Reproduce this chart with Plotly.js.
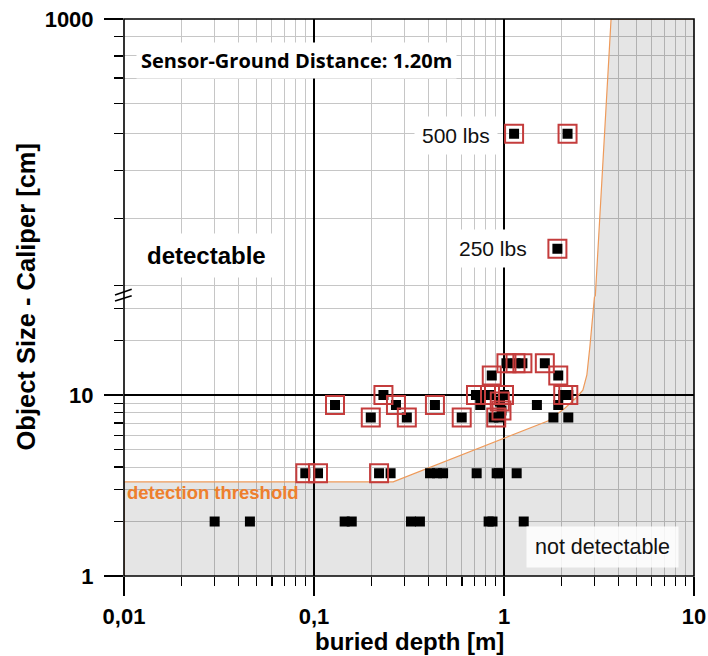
<!DOCTYPE html>
<html>
<head>
<meta charset="utf-8">
<script src="https://cdn.plot.ly/plotly-3.0.1.min.js"></script>
<style>html,body{margin:0;padding:0;background:#fff;}#chart{width:708px;height:656px;}</style>
</head>
<body>
<div id="chart"></div>
<script>
// ---- data ----
// all measured objects (black squares), lower axis part (size < ~35 cm)
const objDepth = [0.030, 0.046, 0.145, 0.158, 0.324, 0.361, 0.83, 0.87, 1.27,
                  0.090, 0.105, 0.220, 0.253, 0.408, 0.444, 0.478, 0.718, 0.915, 0.94, 1.166,
                  0.199, 0.308, 0.599, 0.88, 0.94, 1.82, 2.18,
                  0.129, 0.27, 0.433, 0.75, 1.49, 1.93,
                  0.232, 0.712, 0.80, 0.844, 1.0, 2.05, 2.18,
                  0.95, 0.97, 0.862, 1.93, 1.03, 1.15, 1.25, 1.64];
const objSize  = [2, 2, 2, 2, 2, 2, 2, 2, 2,
                  3.7, 3.7, 3.7, 3.7, 3.7, 3.7, 3.7, 3.7, 3.7, 3.7, 3.7,
                  7.5, 7.5, 7.5, 7.5, 7.5, 7.5, 7.5,
                  8.8, 8.8, 8.8, 8.8, 8.8, 8.8,
                  10, 10, 10, 10, 10, 10, 10,
                  9.2, 8.2, 12.8, 12.8, 15, 15, 15, 15];
// detected objects (red frames), lower axis part
const detDepth = [0.090, 0.105, 0.220,
                  0.199, 0.308, 0.599, 0.91,
                  0.129, 0.27, 0.433, 0.97, 0.95,
                  0.232, 0.712, 0.844, 1.0, 2.05, 2.18,
                  0.862, 1.93,
                  1.03, 1.15, 1.25, 1.64];
const detSize  = [3.7, 3.7, 3.7,
                  7.5, 7.5, 7.5, 7.5,
                  8.8, 8.8, 8.8, 8.2, 9.2,
                  10, 10, 10, 10, 10, 10,
                  12.8, 12.8,
                  15, 15, 15, 15];
// bombs (upper axis part)
const bombDepth = [1.13, 2.16, 1.91];
const bombSize  = [500, 500, 250];
// detection threshold
const thrLowX = [0.01, 0.01, 0.261, 1.70, 2.09, 2.39, 2.60, 2.73, 2.83, 2.94, 3.01, 3.03];
const thrLowY = [1, 3.31, 3.31, 7.18, 8.45, 9.63, 10.64, 12.9, 18.4, 28.3, 35, 40];
const thrUpX  = [2.99, 3.66, 10];
const thrUpY  = [170, 1000, 1000];
// ticks
const xMajor = [0.01, 0.1, 1, 10];
const xMajorText = ['0,01', '0,1', '1', '10'];
const xMinor = [0.02,0.03,0.04,0.05,0.06,0.07,0.08,0.09, 0.2,0.3,0.4,0.5,0.6,0.7,0.8,0.9, 2,3,4,5,6,7,8,9];
const yLowMajor = [1, 10];
const yLowMajorText = ['1', '10'];
const yLowMinor = [2,3,4,5,6,7,8,9,20,30];
const yUpMajor = [1000];
const yUpMajorText = ['1000'];
const yUpMinor = [200,300,400,500,600,700,800,900];

// ---- styles ----
const FILL = 'rgba(0,0,0,0.10)';
const THR = '#ee9a5a';
const RED = '#c43c3c';
const TICKFONT = {family: 'Liberation Sans, Arial, sans-serif', size: 22, color: '#000', weight: 'bold'};
const BREAK = 0.5018;

const traces = [
  {x: thrLowX.concat([10, 10]), y: thrLowY.concat([40, 1]), xaxis: 'x', yaxis: 'y',
   mode: 'none', fill: 'toself', fillcolor: FILL, hoverinfo: 'skip'},
  {x: thrUpX.concat([10]), y: thrUpY.concat([170]), xaxis: 'x', yaxis: 'y2',
   mode: 'none', fill: 'toself', fillcolor: FILL, hoverinfo: 'skip'},
  {x: thrLowX, y: thrLowY, xaxis: 'x', yaxis: 'y', mode: 'lines',
   line: {color: THR, width: 1.2}, hoverinfo: 'skip'},
  {x: thrUpX, y: thrUpY, xaxis: 'x', yaxis: 'y2', mode: 'lines',
   line: {color: THR, width: 1.2}, hoverinfo: 'skip'},
  {x: objDepth, y: objSize, xaxis: 'x', yaxis: 'y', mode: 'markers',
   marker: {symbol: 'square', size: 10, color: '#000'}},
  {x: bombDepth, y: bombSize, xaxis: 'x', yaxis: 'y2', mode: 'markers',
   marker: {symbol: 'square', size: 10, color: '#000'}},
  {x: detDepth, y: detSize, xaxis: 'x', yaxis: 'y', mode: 'markers',
   marker: {symbol: 'square-open', size: 18, color: RED, line: {color: RED, width: 2}}},
  {x: bombDepth, y: bombSize, xaxis: 'x', yaxis: 'y2', mode: 'markers',
   marker: {symbol: 'square-open', size: 18, color: RED, line: {color: RED, width: 2}}}
];

function minorCfg(vals) {
  return {tickmode: 'array', tickvals: vals, ticks: 'outside', ticklen: 9, tickwidth: 1.3,
          tickcolor: '#000', showgrid: true, gridcolor: '#c6c6c6', gridwidth: 1};
}

const layout = {
  width: 708, height: 656,
  margin: {l: 124, r: 14, t: 19, b: 80, pad: 0},
  paper_bgcolor: '#fff', plot_bgcolor: '#fff',
  showlegend: false,
  xaxis: {type: 'log', range: [-2, 1], anchor: 'y',
          tickmode: 'array', tickvals: xMajor, ticktext: xMajorText,
          ticks: 'outside', ticklen: 19, tickwidth: 1.5, tickcolor: '#000',
          showgrid: true, gridcolor: '#000', gridwidth: 1.7,
          tickfont: TICKFONT, ticklabelstandoff: 2,
          minor: minorCfg(xMinor), showline: false, zeroline: false},
  yaxis: {type: 'log', range: [0, 1.5442], domain: [0, BREAK], anchor: 'x',
          tickmode: 'array', tickvals: yLowMajor, ticktext: yLowMajorText,
          ticks: 'outside', ticklen: 19, tickwidth: 1.5, tickcolor: '#000',
          showgrid: true, gridcolor: '#000', gridwidth: 1.7,
          tickfont: TICKFONT, ticklabelstandoff: 6,
          minor: minorCfg(yLowMinor), showline: false, zeroline: false},
  yaxis2: {type: 'log', range: [2.2726, 3], domain: [BREAK, 1], anchor: 'x',
          tickmode: 'array', tickvals: yUpMajor, ticktext: yUpMajorText,
          ticks: 'outside', ticklen: 19, tickwidth: 1.5, tickcolor: '#000',
          showgrid: true, gridcolor: '#000', gridwidth: 1.7,
          tickfont: TICKFONT, ticklabelstandoff: 6,
          minor: minorCfg(yUpMinor), showline: false, zeroline: false},
  shapes: [
    {type: 'rect', xref: 'paper', yref: 'paper', x0: 0, x1: 1, y0: 0, y1: 1,
     line: {color: '#000', width: 1.6}, fillcolor: 'rgba(0,0,0,0)', layer: 'above'},
    {type: 'line', xref: 'paper', yref: 'paper', x0: -0.0158, y0: 0.5045, x1: 0.0135, y1: 0.5147,
     line: {color: '#000', width: 1.5}, layer: 'above'},
    {type: 'line', xref: 'paper', yref: 'paper', x0: -0.0158, y0: 0.4937, x1: 0.0135, y1: 0.5032,
     line: {color: '#000', width: 1.5}, layer: 'above'}
  ],
  annotations: [
    {xref: 'paper', yref: 'paper', x: 0.3029, y: 0.9246, xanchor: 'center', yanchor: 'middle',
     text: 'Sensor-Ground Distance: 1.20m', showarrow: false, bgcolor: '#fff', borderpad: 4,
     font: {family: 'Open Sans, sans-serif', size: 20, color: '#000', weight: 'bold'}},
    {xref: 'paper', yref: 'paper', x: 0.1447, y: 0.5763, xanchor: 'center', yanchor: 'middle',
     text: 'detectable', showarrow: false, bgcolor: '#fff', borderpad: 8,
     font: {family: 'Liberation Sans, Arial, sans-serif', size: 24, color: '#000', weight: 'bold'}},
    {xref: 'paper', yref: 'paper', x: 0.5830, y: 0.7917, xanchor: 'center', yanchor: 'middle',
     text: '500 lbs', showarrow: false, bgcolor: '#fff', borderpad: 7,
     font: {family: 'Liberation Sans, Arial, sans-serif', size: 21, color: '#111'}},
    {xref: 'paper', yref: 'paper', x: 0.6479, y: 0.5883, xanchor: 'center', yanchor: 'middle',
     text: '250 lbs', showarrow: false, bgcolor: '#fff', borderpad: 7,
     font: {family: 'Liberation Sans, Arial, sans-serif', size: 21, color: '#111'}},
    {xref: 'paper', yref: 'paper', x: 0.8386, y: 0.0526, xanchor: 'center', yanchor: 'middle',
     text: 'not detectable', showarrow: false, bgcolor: 'rgba(255,255,255,0.85)', borderpad: 8,
     font: {family: 'Liberation Sans, Arial, sans-serif', size: 21.5, color: '#111'}},
    {xref: 'paper', yref: 'paper', x: 0.1567, y: 0.1496, xanchor: 'center', yanchor: 'middle',
     text: 'detection threshold', showarrow: false,
     font: {family: 'Liberation Sans, Arial, sans-serif', size: 18.5, color: '#ee7f2d', weight: 'bold'}},
    {xref: 'paper', yref: 'paper', x: 0.5, y: -0.1176, xanchor: 'center', yanchor: 'middle',
     text: 'buried depth [m]', showarrow: false,
     font: {family: 'Liberation Sans, Arial, sans-serif', size: 24, color: '#000', weight: 'bold'}},
    {xref: 'paper', yref: 'paper', x: -0.1719, y: 0.5018, xanchor: 'center', yanchor: 'middle',
     text: 'Object Size - Caliper [cm]', showarrow: false, textangle: -90,
     font: {family: 'Liberation Sans, Arial, sans-serif', size: 25.5, color: '#000', weight: 'bold'}}
  ]
};

Plotly.newPlot('chart', traces, layout, {staticPlot: true, displayModeBar: false});
</script>
</body>
</html>
